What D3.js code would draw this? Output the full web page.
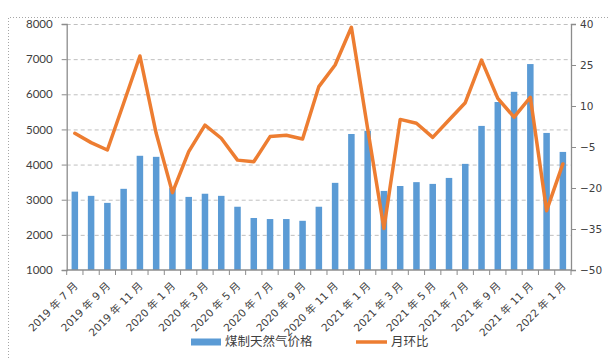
<!DOCTYPE html>
<html><head><meta charset="utf-8">
<script src="https://cdn.jsdelivr.net/npm/d3@7"></script>
<style>
html,body{margin:0;padding:0;background:#fff;}
svg{display:block;}
</style>
</head><body>
<svg id="c" width="609" height="358"></svg>
<script>
const months = ["2019-07","2019-08","2019-09","2019-10","2019-11","2019-12",
"2020-01","2020-02","2020-03","2020-04","2020-05","2020-06","2020-07","2020-08","2020-09","2020-10","2020-11","2020-12",
"2021-01","2021-02","2021-03","2021-04","2021-05","2021-06","2021-07","2021-08","2021-09","2021-10","2021-11","2021-12",
"2022-01"];
const priceValues = [3230,3110,2910,3310,4250,4220,3330,3080,3170,3110,2800,2480,2450,2450,2400,2800,3480,4870,4960,3250,3390,3500,3450,3620,4020,5100,5780,6070,6860,4900,4360];
const momValues = [0,-3.4,-6.1,11,28.3,0,-21.7,-6.7,3,-1.8,-9.8,-10.4,-1.2,-0.7,-2.1,17.1,25,38.8,1.7,-34.8,5.1,3.7,-1.5,4.9,11.2,26.8,12.8,5.9,13.2,-28.3,-11.2];
const leftTicks = [1000,2000,3000,4000,5000,6000,7000,8000];
const rightTicks = [-50,-35,-20,-5,10,25,40];
const seriesNames = ["煤制天然气价格","月环比"];

const svg = d3.select("#c");
const L = 66.7, R = 571, T = 24, B = 270;
const axisColor = "#8c8c8c", textColor = "#404040";

// chart border (dotted)
svg.append("path").attr("d", `M8.5,358 L8.5,17.5 L609,17.5`)
  .attr("fill","none").attr("stroke","#a6a6a6").attr("stroke-dasharray","1,2");

const x = d3.scaleBand().domain(months).range([L,R]).paddingInner(0.6).paddingOuter(0.3);
const step = x.step();
const yL = d3.scaleLinear().domain([1000,8000]).range([B,T]);
const yR = d3.scaleLinear().domain([-50,40]).range([B,T]);

// gridlines
svg.append("g").selectAll("line").data(leftTicks.filter(d=>d>1000)).join("line")
  .attr("x1",L).attr("x2",R).attr("y1",d=>yL(d)+0.5).attr("y2",d=>yL(d)+0.5)
  .attr("stroke","#bfbfbf").attr("stroke-width",1).attr("stroke-dasharray","4,3");

// bars
svg.append("g").selectAll("rect").data(months).join("rect")
  .attr("x",d=>x(d)).attr("width",x.bandwidth())
  .attr("y",(d,i)=>yL(priceValues[i])).attr("height",(d,i)=>B-yL(priceValues[i]))
  .attr("fill","#5b9bd5");

// line
const line = d3.line().x((d,i)=>x(months[i])+x.bandwidth()/2).y(d=>yR(d));
svg.append("path").datum(momValues).attr("d",line)
  .attr("fill","none").attr("stroke","#ed7d31").attr("stroke-width",3.5)
  .attr("stroke-linejoin","round").attr("stroke-linecap","round");

// left axis
const gl = svg.append("g").attr("transform",`translate(${L},0)`)
  .call(d3.axisLeft(yL).tickValues(leftTicks).tickSize(5).tickPadding(9).tickFormat(d3.format("d")));
gl.select(".domain").attr("stroke",axisColor).attr("stroke-width",1.3);
gl.selectAll(".tick line").attr("stroke",axisColor);
gl.selectAll("text").attr("fill",textColor).attr("font-family","Lato, 'Liberation Sans', sans-serif").attr("font-size","11.5px");

// right axis
const gr = svg.append("g").attr("transform",`translate(${R},0)`)
  .call(d3.axisRight(yR).tickValues(rightTicks).tickSize(5).tickPadding(4));
gr.select(".domain").attr("stroke",axisColor).attr("stroke-width",1.3);
gr.selectAll(".tick line").attr("stroke",axisColor);
gr.selectAll("text").attr("fill",textColor).attr("font-family","'DejaVu Sans', sans-serif").attr("font-size","10.5px");

// bottom axis
const gb = svg.append("g");
gb.append("line").attr("x1",L).attr("x2",R).attr("y1",B).attr("y2",B).attr("stroke",axisColor).attr("stroke-width",1.3);
gb.selectAll("line.t").data(d3.range(months.length+1)).join("line").attr("class","t")
  .attr("x1",i=>L+i*step).attr("x2",i=>L+i*step).attr("y1",B).attr("y2",B+5).attr("stroke",axisColor);
const fmt = m => { const [yy,mm] = m.split("-"); return `${yy} 年 ${+mm} 月`; };
gb.selectAll("text").data(months.filter((d,i)=>i%2===0)).join("text")
  .attr("transform",d=>`translate(${x(d)+x.bandwidth()/2+1},${B+14}) rotate(-45)`)
  .attr("text-anchor","end").attr("dy","0.35em")
  .attr("fill",textColor).attr("font-family","'DejaVu Sans', 'Noto Sans CJK SC', sans-serif").attr("font-size","10.5px")
  .text(fmt);

// legend
const lg = svg.append("g");
lg.append("rect").attr("x",191).attr("y",338.5).attr("width",30).attr("height",7).attr("fill","#5b9bd5");
lg.append("text").attr("x",225).attr("y",342).attr("dy","0.35em").text(seriesNames[0])
  .attr("fill",textColor).attr("font-family","'Noto Sans CJK SC', sans-serif").attr("font-size","12.5px");
lg.append("line").attr("x1",356).attr("x2",387).attr("y1",342).attr("y2",342).attr("stroke","#ed7d31").attr("stroke-width",3.5);
lg.append("text").attr("x",391).attr("y",342).attr("dy","0.35em").text(seriesNames[1])
  .attr("fill",textColor).attr("font-family","'Noto Sans CJK SC', sans-serif").attr("font-size","12.5px");
</script>
</body></html>
